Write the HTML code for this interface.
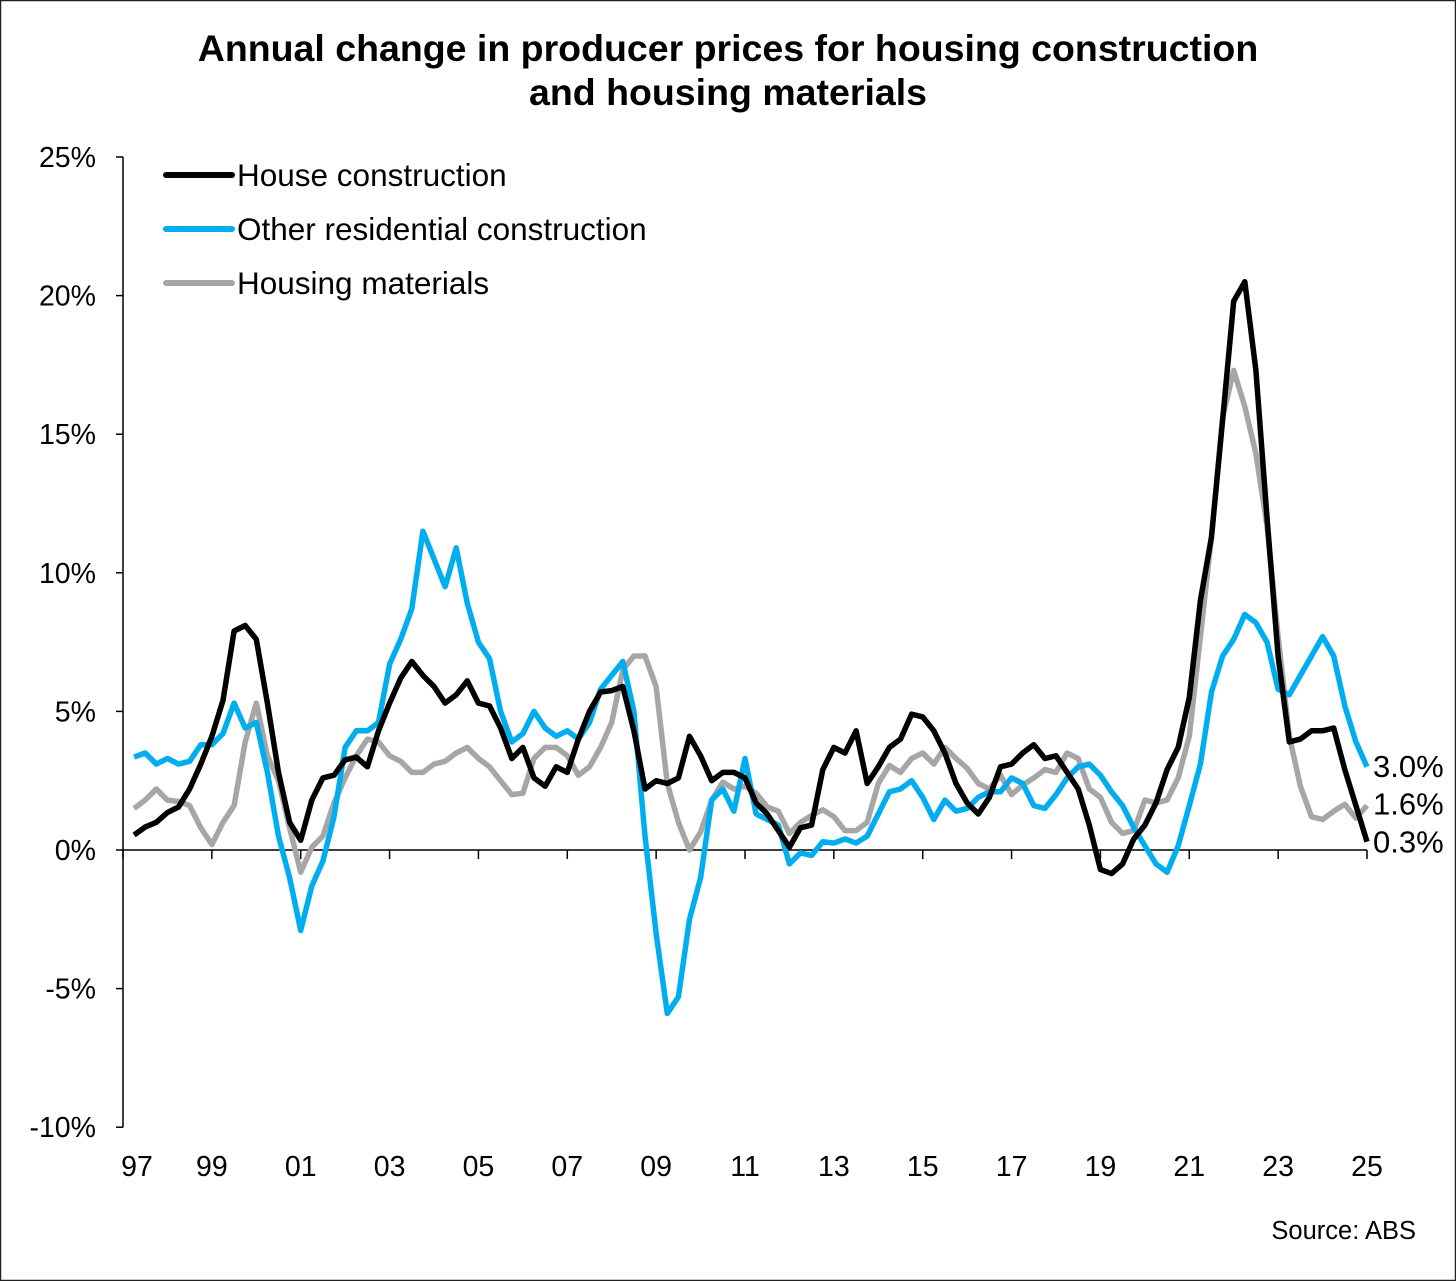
<!DOCTYPE html>
<html><head><meta charset="utf-8"><style>
html,body{margin:0;padding:0;background:#fff}
svg{display:block}
text{font-family:"Liberation Sans",Arial,sans-serif}
</style></head><body>
<svg id="chart" width="1456" height="1281" viewBox="0 0 1456 1281">
<rect x="0.5" y="0.5" width="1455" height="1280" fill="#fff" stroke="#222" stroke-width="1.5"/>
<text x="728" y="61" text-anchor="middle" font-size="37.5" font-weight="bold" fill="#000">Annual change in producer prices for housing construction</text>
<text x="728" y="105" text-anchor="middle" font-size="37.5" font-weight="bold" fill="#000">and housing materials</text>
<g id="axes"></g>
<g id="series"></g>
<g>
<line x1="166" y1="175" x2="232" y2="175" stroke="#000" stroke-width="6" stroke-linecap="round"/>
<text x="237" y="186" font-size="31.5">House construction</text>
<line x1="166" y1="229" x2="232" y2="229" stroke="#00adef" stroke-width="6" stroke-linecap="round"/>
<text x="237" y="240" font-size="31.5">Other residential construction</text>
<line x1="166" y1="283" x2="232" y2="283" stroke="#a6a6a6" stroke-width="6" stroke-linecap="round"/>
<text x="237" y="294" font-size="31.5">Housing materials</text>
</g>
<text x="1416" y="1239" text-anchor="end" font-size="25.5">Source: ABS</text>
</svg>
<script>
const yTicks = [25, 20, 15, 10, 5, 0, -5, -10];
const xTickLabels = ["97","99","01","03","05","07","09","11","13","15","17","19","21","23","25"];
const startYear = 1997.25;
const house = [0.54,0.83,1.0,1.35,1.55,2.2,3.1,4.1,5.4,7.9,8.1,7.6,5.3,2.8,1.0,0.35,1.8,2.6,2.7,3.25,3.35,3.0,4.3,5.3,6.2,6.8,6.3,5.9,5.3,5.6,6.1,5.3,5.2,4.4,3.3,3.7,2.6,2.3,3.0,2.8,4.0,5.0,5.7,5.75,5.9,4.3,2.2,2.5,2.4,2.6,4.1,3.4,2.5,2.8,2.8,2.6,1.7,1.3,0.7,0.1,0.8,0.9,2.9,3.7,3.5,4.3,2.4,3.0,3.7,4.0,4.9,4.8,4.3,3.5,2.4,1.7,1.3,1.9,3.0,3.1,3.5,3.8,3.3,3.4,2.8,2.2,0.9,-0.7,-0.85,-0.5,0.4,0.9,1.7,2.9,3.7,5.5,9.0,11.3,15.5,19.8,20.5,17.3,12.0,7.0,3.9,4.0,4.3,4.3,4.4,2.9,1.6,0.3];
const other = [3.35,3.5,3.1,3.3,3.1,3.2,3.8,3.8,4.2,5.3,4.4,4.6,2.8,0.5,-1.0,-2.9,-1.3,-0.4,1.2,3.7,4.3,4.3,4.6,6.7,7.6,8.7,11.5,10.5,9.5,10.9,8.9,7.5,6.9,5.0,3.9,4.2,5.0,4.4,4.1,4.3,4.0,4.6,5.8,6.3,6.8,5.0,0.5,-3.0,-5.9,-5.3,-2.5,-1.0,1.8,2.2,1.4,3.3,1.3,1.1,0.9,-0.5,-0.1,-0.2,0.3,0.25,0.4,0.25,0.5,1.3,2.1,2.2,2.5,1.9,1.1,1.8,1.4,1.5,1.9,2.1,2.1,2.6,2.4,1.6,1.5,2.0,2.6,3.0,3.1,2.7,2.1,1.6,0.8,0.15,-0.5,-0.8,0.15,1.6,3.1,5.7,7.0,7.6,8.5,8.2,7.5,5.8,5.6,6.3,7.0,7.7,7.0,5.2,3.9,3.0];
const materials = [1.5,1.8,2.2,1.8,1.75,1.6,0.8,0.2,1.0,1.6,3.9,5.3,3.4,2.5,0.8,-0.8,0.1,0.5,1.7,2.6,3.4,4.0,3.9,3.4,3.2,2.8,2.8,3.1,3.2,3.5,3.7,3.3,3.0,2.5,2.0,2.05,3.3,3.7,3.7,3.4,2.7,3.0,3.7,4.6,6.5,7.0,7.0,5.9,2.4,1.0,0.0,0.65,1.8,2.45,2.2,2.3,2.05,1.55,1.4,0.6,1.0,1.25,1.45,1.2,0.7,0.7,1.0,2.4,3.05,2.8,3.3,3.5,3.1,3.7,3.3,2.95,2.4,2.2,2.7,2.0,2.35,2.6,2.9,2.8,3.5,3.3,2.2,1.9,1.0,0.6,0.7,1.8,1.7,1.8,2.6,4.1,7.7,11.3,15.6,17.3,16.0,14.3,11.7,7.7,4.1,2.3,1.2,1.1,1.4,1.65,1.15,1.6];

const NS = "http://www.w3.org/2000/svg";
const X0 = 123, X1 = 1367, Y0 = 850, PXPCT = 27.72;
function xScale(yr){ return X0 + (yr - 1997) * (X1 - X0) / 28; }
function yScale(v){ return Y0 - v * PXPCT; }
function mk(tag, attrs, parent){
  const el = document.createElementNS(NS, tag);
  for (const k in attrs) el.setAttribute(k, attrs[k]);
  parent.appendChild(el); return el;
}
const axes = document.getElementById("axes");
const yAxis = mk("line",{x1:X0,y1:yScale(25),x2:X0,y2:yScale(-10),stroke:"#000","stroke-width":1.5},axes);


yTicks.forEach(v=>{
  const t = mk("line",{x1:X0-7,y1:yScale(v),x2:X0,y2:yScale(v),stroke:"#000","stroke-width":1.5},axes);
  
  
  const l = mk("text",{x:96,y:yScale(v)+10,"text-anchor":"end","font-size":28.5},axes);
  l.textContent = v + "%";
  
  
});
const xAxis = mk("line",{x1:X0,y1:Y0,x2:X1,y2:Y0,stroke:"#000","stroke-width":1.5},axes);


xTickLabels.forEach((lab,i)=>{
  const x = xScale(1997 + 2*i);
  const t = mk("line",{x1:x,y1:Y0,x2:x,y2:Y0+9,stroke:"#000","stroke-width":1.5},axes);
  
  
  const l = mk("text",{x:i===0?x+14:x,y:1176,"text-anchor":"middle","font-size":28.5},axes);
  l.textContent = lab;
  
  
});
const sg = document.getElementById("series");
function drawLine(data, color, name, labelDy){
  const pts = data.map((v,i)=>xScale(startYear + i*0.25).toFixed(1)+","+yScale(v).toFixed(1)).join(" ");
  const p = mk("polyline",{points:pts,fill:"none",stroke:color,"stroke-width":5.5,"stroke-linejoin":"round"},sg);
  
  
  const last = data[data.length-1];
  const l = mk("text",{x:1373,y:yScale(last)+labelDy,"font-size":31},sg);
  l.textContent = last.toFixed(1) + "%";
  
  
}
drawLine(materials, "#a6a6a6", "series-housing-materials", 9);
drawLine(other, "#00adef", "series-other-residential", 10);
drawLine(house, "#000", "series-house-construction", 11);
</script>
</body></html>
